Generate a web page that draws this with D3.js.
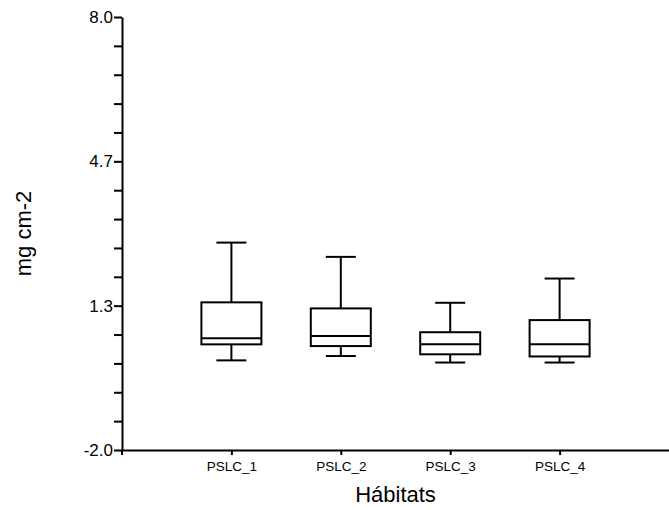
<!DOCTYPE html>
<html>
<head>
<meta charset="utf-8">
<script src="https://cdn.jsdelivr.net/npm/d3@7/dist/d3.min.js"></script>
<style>
html,body{margin:0;padding:0;background:#fff;}
svg{display:block;}
text{font-family:"Liberation Sans", Arial, sans-serif;fill:#000;}
</style>
</head>
<body>
<svg id="chart" width="669" height="510"></svg>
<script>
const categories = ["PSLC_1", "PSLC_2", "PSLC_3", "PSLC_4"];
const whiskerLow  = [0.07, 0.17, 0.02, 0.02];
const q1          = [0.44, 0.40, 0.21, 0.16];
const median      = [0.58, 0.63, 0.44, 0.44];
const q3          = [1.41, 1.27, 0.72, 1.00];
const whiskerHigh = [2.79, 2.46, 1.40, 1.96];
const yTickLabels = ["-2.0", "1.3", "4.7", "8.0"];
const yMin = -2, yMax = 8, yMinorCount = 15;

const svg = d3.select("#chart");
const mLeft = 122, mRight = 669, mTop = 17, mBottom = 450;

const y = d3.scaleLinear().domain([yMin, yMax]).range([mBottom, mTop]);
const x = d3.scalePoint().domain(categories).range([mLeft, mRight]).padding(1);

const yTicks = d3.range(yMinorCount + 1).map(i => yMin + i * (yMax - yMin) / yMinorCount);
const yAxis = d3.axisLeft(y).tickValues(yTicks).tickSize(8).tickSizeOuter(0)
  .tickFormat((d, i) => i % 5 === 0 ? yTickLabels[i / 5] : "");
const gy = svg.append("g").attr("transform", `translate(${mLeft},0)`).call(yAxis);
gy.select(".domain").attr("stroke", "#000").attr("stroke-width", 2);
gy.selectAll(".tick line").attr("stroke", "#000").attr("stroke-width", 2);
gy.selectAll(".tick text").attr("font-size", 17).attr("x", -9)
  .attr("font-family", '"Liberation Sans", Arial, sans-serif');

const xAxis = d3.axisBottom(x).tickSize(5).tickSizeOuter(0).tickPadding(6);
const gx = svg.append("g").attr("transform", `translate(0,${mBottom})`).call(xAxis);
gx.select(".domain").attr("stroke", "#000").attr("stroke-width", 2);
gx.selectAll(".tick line").attr("stroke", "#000").attr("stroke-width", 2);
gx.selectAll(".tick text").attr("font-size", 13.5)
  .attr("font-family", '"Liberation Sans", Arial, sans-serif');
gx.append("line").attr("x1", mLeft).attr("x2", mLeft).attr("y1", 0).attr("y2", 5)
  .attr("stroke", "#000").attr("stroke-width", 2);

const boxW = 60, capW = 30;
const data = categories.map((c, i) => ({c, lo: whiskerLow[i], q1: q1[i], med: median[i], q3: q3[i], hi: whiskerHigh[i]}));
const g = svg.append("g").attr("stroke", "#000").attr("stroke-width", 2).attr("fill", "none");
data.forEach(d => {
  const cx = x(d.c);
  g.append("line").attr("x1", cx).attr("x2", cx).attr("y1", y(d.hi)).attr("y2", y(d.q3));
  g.append("line").attr("x1", cx).attr("x2", cx).attr("y1", y(d.q1)).attr("y2", y(d.lo));
  g.append("line").attr("x1", cx - capW/2).attr("x2", cx + capW/2).attr("y1", y(d.hi)).attr("y2", y(d.hi));
  g.append("line").attr("x1", cx - capW/2).attr("x2", cx + capW/2).attr("y1", y(d.lo)).attr("y2", y(d.lo));
  g.append("rect").attr("x", cx - boxW/2).attr("width", boxW)
    .attr("y", y(d.q3)).attr("height", y(d.q1) - y(d.q3)).attr("fill", "#fff");
  g.append("line").attr("x1", cx - boxW/2).attr("x2", cx + boxW/2).attr("y1", y(d.med)).attr("y2", y(d.med));
});

svg.append("text").attr("x", (mLeft + mRight) / 2).attr("y", 502).attr("text-anchor", "middle")
  .attr("font-size", 22).text("Hábitats");
svg.append("text").attr("transform", `translate(31,${(mTop + mBottom) / 2}) rotate(-90)`)
  .attr("text-anchor", "middle").attr("font-size", 22).text("mg cm-2");
</script>
</body>
</html>
